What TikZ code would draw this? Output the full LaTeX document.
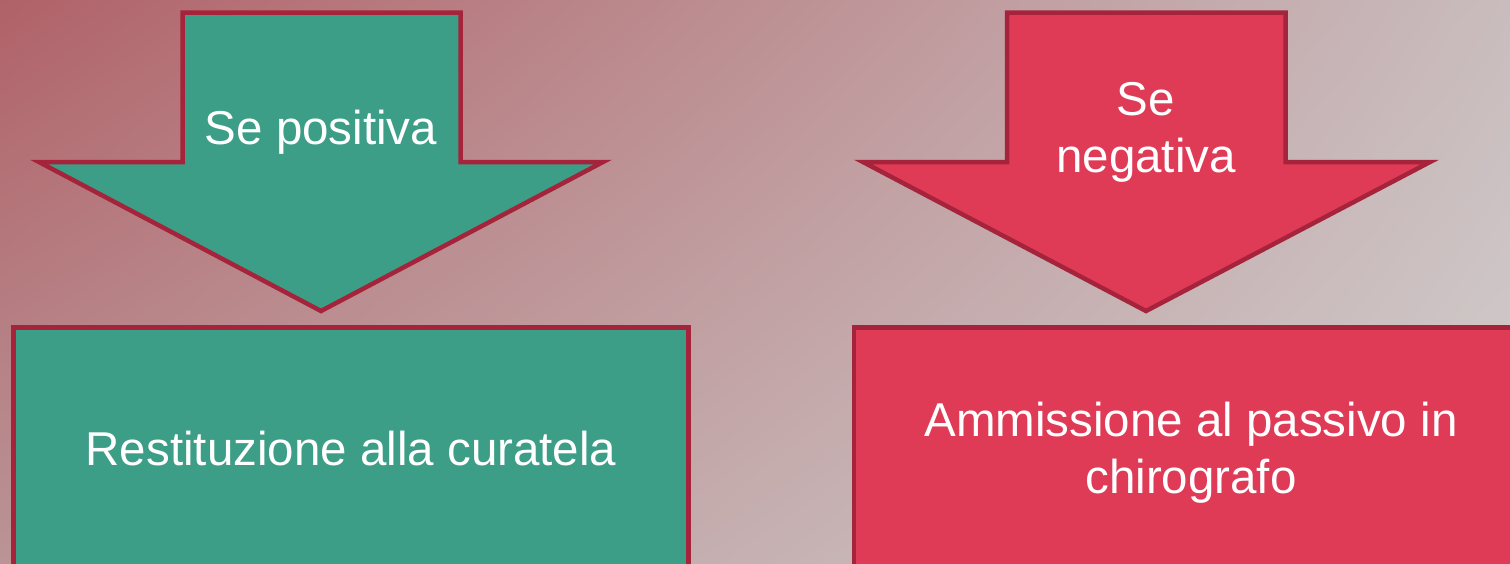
\documentclass[tikz,border=0pt]{standalone}
\usepackage{fontspec}
\setmainfont{Liberation Sans}
\usetikzlibrary{shadings}
\definecolor{bgUL}{RGB}{176,98,104}
\definecolor{bgUR}{RGB}{201,188,189}
\definecolor{bgLL}{RGB}{186,148,150}
\definecolor{bgLR}{RGB}{210,206,206}
\definecolor{posgreen}{RGB}{61,158,135}
\definecolor{negred}{RGB}{224,59,86}
\definecolor{edgered}{RGB}{165,36,59}
\tikzset{
  blockedge/.style={draw=edgered, line width=4.5pt, line join=miter},
  label/.style={text=white, font=\fontsize{47.5}{57}\selectfont, align=center, inner sep=0pt},
}
\begin{document}
\begin{tikzpicture}[x=1pt,y=-1pt]
\useasboundingbox (0,0) rectangle (1510,563);
\clip (0,0) rectangle (1510,563);
\shade[upper left=bgUL, upper right=bgUR, lower left=bgLL, lower right=bgLR] (0,0) rectangle (1510,563);
% left arrow
\draw[blockedge, fill=posgreen] (182.5,12.5) -- (460.5,12.5) -- (460.5,162) -- (603,162) -- (321,311) -- (39,162) -- (182.5,162) -- cycle;
% right arrow
\draw[blockedge, fill=negred] (1007,12.5) -- (1285.5,12.5) -- (1285.5,162) -- (1430,162) -- (1146,311) -- (863,162) -- (1007,162) -- cycle;
% boxes
\draw[blockedge, fill=posgreen] (13.5,327.5) rectangle (688.5,575);
\draw[blockedge, fill=negred] (854,327.5) rectangle (1530,575);
% labels
\node[label, anchor=base] (pos) at (321,144) {Se positiva};
\node[label, anchor=base] (neg) at (1146,172) {Se\\negativa};
\node[label, anchor=base] (rest) at (351,465) {Restituzione alla curatela};
\node[label, anchor=base] (amm) at (1191,493) {Ammissione al passivo in\\chirografo};
\end{tikzpicture}
\end{document}
